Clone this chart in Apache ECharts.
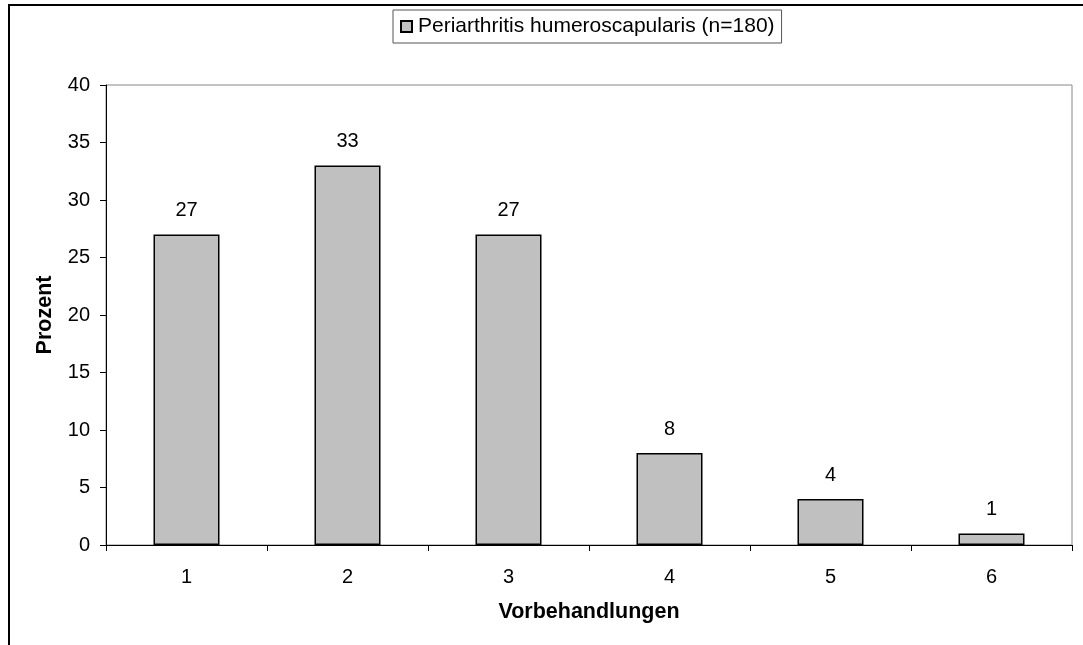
<!DOCTYPE html>
<html>
<head>
<meta charset="utf-8">
<script src="https://cdn.jsdelivr.net/npm/echarts@6/dist/echarts.min.js"></script>
<style>
  html, body { margin: 0; padding: 0; background: #fff; }
  #chart { width: 1083px; height: 645px; }
</style>
</head>
<body>
<div id="chart"></div>
<script>
// Anzahl der Vorbehandlungen
const categories = ['1', '2', '3', '4', '5', '6'];
const prozent = [27, 33, 27, 8, 4, 1];
const seriesName = 'Periarthritis humeroscapularis (n=180)';

let chartDom = document.getElementById('chart');
let myChart = echarts.init(chartDom);
let font = 'Liberation Sans, Arial, sans-serif';

let option = {
  backgroundColor: '#fff',
  animation: false,
  textStyle: { fontFamily: font },
  graphic: [
    {
      type: 'rect',
      shape: { x: 9, y: 5, width: 1200, height: 800 },
      style: { fill: 'none', stroke: '#000', lineWidth: 2 },
      silent: true
    },
    {
      type: 'rect',
      shape: { x: 106, y: 85, width: 966, height: 460 },
      style: { fill: 'none', stroke: '#888', lineWidth: 1 },
      silent: true,
      z: -1
    }
  ],
  legend: {
    top: 10,
    left: 393,
    itemWidth: 11,
    itemHeight: 11,
    itemGap: 5,
    padding: [6, 7, 6, 7],
    borderColor: '#555',
    borderWidth: 1,
    backgroundColor: '#fff',
    textStyle: { fontFamily: font, fontSize: 21, color: '#000', padding: [0, 0, 0, 1] },
    data: [{ name: seriesName, icon: 'rect' }]
  },
  grid: {
    left: 106,
    right: 11,
    top: 85,
    bottom: 100,
    containLabel: false
  },
  xAxis: {
    type: 'category',
    data: categories,
    name: 'Vorbehandlungen',
    nameLocation: 'middle',
    nameGap: 56,
    nameTextStyle: { fontFamily: font, fontSize: 21.5, fontWeight: 'bold', color: '#000' },
    axisLine: { lineStyle: { color: '#000', width: 1 } },
    axisTick: { show: true, alignWithLabel: false, length: 6, lineStyle: { color: '#000' } },
    axisLabel: { fontFamily: font, fontSize: 20, color: '#000', margin: 22 },
    splitLine: { show: false }
  },
  yAxis: {
    type: 'value',
    min: 0,
    max: 40,
    interval: 5,
    name: 'Prozent',
    nameLocation: 'middle',
    nameGap: 50,
    nameTextStyle: { fontFamily: font, fontSize: 21.5, fontWeight: 'bold', color: '#000' },
    axisLine: { show: true, lineStyle: { color: '#000', width: 1 } },
    axisTick: { show: true, inside: false, length: 6, lineStyle: { color: '#000' } },
    axisLabel: { fontFamily: font, fontSize: 20, color: '#000', margin: 16 },
    splitLine: { show: false }
  },
  series: [
    {
      name: seriesName,
      type: 'bar',
      data: prozent,
      barWidth: '41%',
      itemStyle: { color: '#c0c0c0', borderColor: '#000', borderWidth: 1.5 },
      label: {
        show: true,
        position: 'top',
        distance: 14,
        fontFamily: font,
        fontSize: 20,
        color: '#000'
      }
    }
  ]
};

myChart.setOption(option);
window.onresize = () => {
  myChart.resize();
};
</script>
</body>
</html>
